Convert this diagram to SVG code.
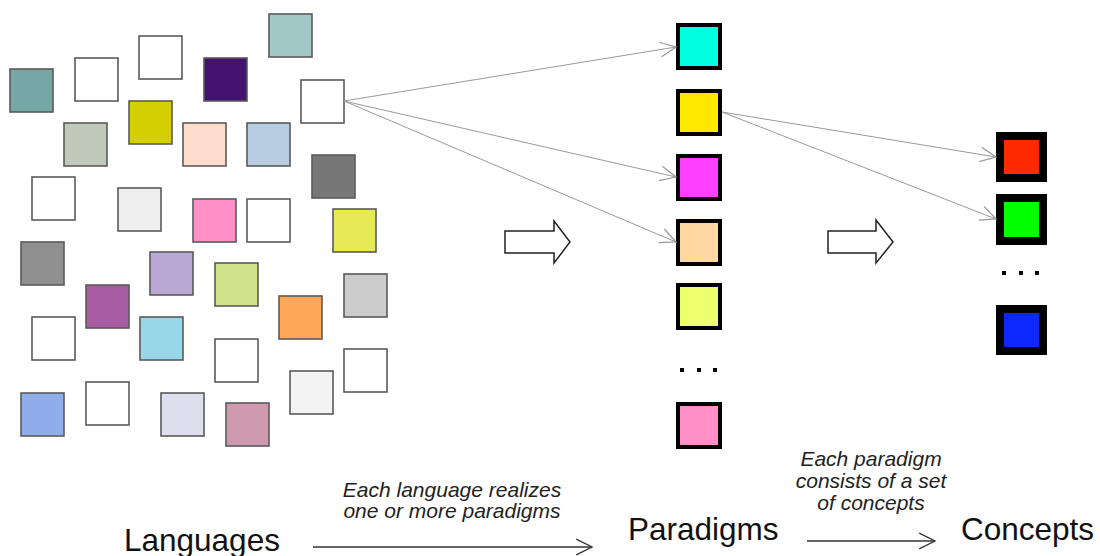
<svg xmlns="http://www.w3.org/2000/svg" width="1100" height="556" viewBox="0 0 1100 556">
<defs>
<style>
.lang{stroke:#5a5a5a;stroke-width:1.6}
.par{stroke:#000;stroke-width:4}
.con{stroke:#000;stroke-width:8}
.conn{fill:none;stroke:#9a9a9a;stroke-width:1}
.flow{fill:none;stroke:#333;stroke-width:1.3}
.hollow{fill:#fff;stroke:#222;stroke-width:1.5;stroke-linejoin:miter}
.big{font-family:"Liberation Sans",Arial,sans-serif;font-size:31.5px;fill:#111}
.note{font-family:"Liberation Sans",Arial,sans-serif;font-size:21px;font-style:italic;fill:#222;text-anchor:middle}
</style>
<marker id="ga" markerUnits="userSpaceOnUse" markerWidth="20" markerHeight="20" refX="0" refY="0" viewBox="-17 -9 19 18" orient="auto">
<path d="M-15,-7 L0,0 L-15,7" fill="none" stroke="#9a9a9a" stroke-width="1.2"/>
</marker>
<marker id="da" markerUnits="userSpaceOnUse" markerWidth="20" markerHeight="20" refX="0" refY="0" viewBox="-17 -9 19 18" orient="auto">
<path d="M-15,-7.5 L0,0 L-15,7.5" fill="none" stroke="#333" stroke-width="1.3"/>
</marker>
</defs>
<rect width="1100" height="556" fill="#fff"/>

<g id="languages">
<g id="lang1"><rect class="lang" x="10" y="69" width="43" height="43" fill="#75A7A6"/></g>
<g id="lang2"><rect class="lang" x="75" y="58" width="43" height="43" fill="#fff"/></g>
<g id="lang3"><rect class="lang" x="139" y="36" width="43" height="43" fill="#fff"/></g>
<g id="lang4"><rect class="lang" x="204" y="58" width="43" height="43" fill="#43136F"/></g>
<g id="lang5"><rect class="lang" x="269" y="14" width="43" height="43" fill="#A1C8C7"/></g>
<g id="lang6"><rect class="lang" x="301" y="80" width="43" height="43" fill="#fff"/></g>
<g id="lang7"><rect class="lang" x="64" y="123" width="43" height="43" fill="#C1CABA"/></g>
<g id="lang8"><rect class="lang" x="129" y="101" width="43" height="43" fill="#D4CF00"/></g>
<g id="lang9"><rect class="lang" x="183" y="123" width="43" height="43" fill="#FFDCCB"/></g>
<g id="lang10"><rect class="lang" x="247" y="123" width="43" height="43" fill="#B8CDE1"/></g>
<g id="lang11"><rect class="lang" x="32" y="177" width="43" height="43" fill="#fff"/></g>
<g id="lang12"><rect class="lang" x="312" y="155" width="43" height="43" fill="#777777"/></g>
<g id="lang13"><rect class="lang" x="118" y="188" width="43" height="43" fill="#EEEEEE"/></g>
<g id="lang14"><rect class="lang" x="193" y="199" width="43" height="43" fill="#FF90C8"/></g>
<g id="lang15"><rect class="lang" x="247" y="199" width="43" height="43" fill="#fff"/></g>
<g id="lang16"><rect class="lang" x="333" y="209" width="43" height="43" fill="#E6EB55"/></g>
<g id="lang17"><rect class="lang" x="21" y="242" width="43" height="43" fill="#909090"/></g>
<g id="lang18"><rect class="lang" x="150" y="252" width="43" height="43" fill="#BAA7D4"/></g>
<g id="lang19"><rect class="lang" x="215" y="263" width="43" height="43" fill="#D0E28A"/></g>
<g id="lang20"><rect class="lang" x="86" y="285" width="43" height="43" fill="#A85CA2"/></g>
<g id="lang21"><rect class="lang" x="344" y="274" width="43" height="43" fill="#CCCCCC"/></g>
<g id="lang22"><rect class="lang" x="279" y="296" width="43" height="43" fill="#FFA85A"/></g>
<g id="lang23"><rect class="lang" x="32" y="317" width="43" height="43" fill="#fff"/></g>
<g id="lang24"><rect class="lang" x="140" y="317" width="43" height="43" fill="#98D6EA"/></g>
<g id="lang25"><rect class="lang" x="215" y="339" width="43" height="43" fill="#fff"/></g>
<g id="lang26"><rect class="lang" x="344" y="349" width="43" height="43" fill="#fff"/></g>
<g id="lang27"><rect class="lang" x="290" y="371" width="43" height="43" fill="#F3F3F3"/></g>
<g id="lang28"><rect class="lang" x="21" y="393" width="43" height="43" fill="#8FADEA"/></g>
<g id="lang29"><rect class="lang" x="86" y="382" width="43" height="43" fill="#fff"/></g>
<g id="lang30"><rect class="lang" x="161" y="393" width="43" height="43" fill="#DFDEEE"/></g>
<g id="lang31"><rect class="lang" x="226" y="403" width="43" height="43" fill="#CF9AAF"/></g>
</g>

<g id="paradigms">
<g id="par1"><rect class="par" x="678" y="25" width="42" height="43" fill="#00FFE1"/></g>
<g id="par2"><rect class="par" x="678" y="91" width="42" height="43" fill="#FFE800"/></g>
<g id="par3"><rect class="par" x="678" y="156" width="42" height="43" fill="#FF40FF"/></g>
<g id="par4"><rect class="par" x="678" y="221" width="42" height="43" fill="#FFD7A0"/></g>
<g id="par5"><rect class="par" x="678" y="285" width="42" height="43" fill="#EEFF6E"/></g>
<g id="par-dots" fill="#000"><rect x="680" y="368" width="4" height="4"/><rect x="697" y="368" width="4" height="4"/><rect x="713" y="368" width="4" height="4"/></g>
<g id="par6"><rect class="par" x="678" y="404" width="42" height="43" fill="#FF90C8"/></g>
</g>

<g id="concepts">
<g id="con1"><rect class="con" x="1000" y="136" width="43" height="42" fill="#FF2A00"/></g>
<g id="con2"><rect class="con" x="1000" y="198" width="43" height="43" fill="#00FF00"/></g>
<g id="con-dots" fill="#000"><rect x="1002" y="271" width="4" height="4"/><rect x="1019" y="271" width="4" height="4"/><rect x="1035" y="271" width="4" height="4"/></g>
<g id="con3"><rect class="con" x="1000" y="309" width="43" height="42" fill="#0A28FF"/></g>
</g>

<g id="connectors">
<line class="conn" x1="344" y1="101" x2="676" y2="47" marker-end="url(#ga)"/>
<line class="conn" x1="344" y1="101" x2="676" y2="177" marker-end="url(#ga)"/>
<line class="conn" x1="344" y1="101" x2="676" y2="242" marker-end="url(#ga)"/>
<line class="conn" x1="722" y1="112" x2="996" y2="157" marker-end="url(#ga)"/>
<line class="conn" x1="722" y1="112" x2="996" y2="219" marker-end="url(#ga)"/>
<path class="hollow" d="M505,231 L554,231 L554,221 L570,242 L554,263 L554,253 L505,253 Z"/>
<path class="hollow" d="M828,231 L876,231 L876,220 L893,242 L876,263 L876,253 L828,253 Z"/>
<line class="flow" x1="313" y1="547" x2="592" y2="547" marker-end="url(#da)"/>
<line class="flow" x1="807" y1="541" x2="935" y2="541" marker-end="url(#da)"/>
</g>

<g id="labels">
<text class="big" x="124" y="551">Languages</text>
<text class="big" x="628" y="540">Paradigms</text>
<text class="big" x="961" y="540">Concepts</text>
<text class="note" x="452" y="497">Each language realizes</text>
<text class="note" x="452" y="518">one or more paradigms</text>
<text class="note" x="871" y="466">Each paradigm</text>
<text class="note" x="871" y="488">consists of a set</text>
<text class="note" x="871" y="510">of concepts</text>
</g>
</svg>
